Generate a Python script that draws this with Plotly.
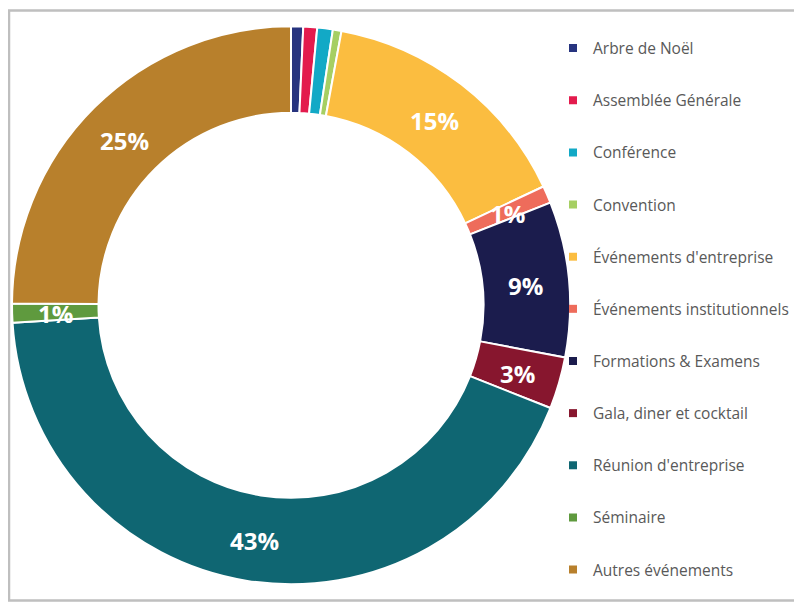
import math
import plotly.graph_objects as go

categories = [
    "Arbre de Noël", "Assemblée Générale", "Conférence", "Convention",
    "Événements d'entreprise", "Événements institutionnels", "Formations & Examens",
    "Gala, diner et cocktail", "Réunion d'entreprise", "Séminaire", "Autres événements",
]
values = [0.7, 0.8, 0.9, 0.5, 15.1, 1.0, 9.0, 3.0, 43.0, 1.1, 24.9]
labels_shown = ["", "", "", "", "15%", "1%", "9%", "3%", "43%", "1%", "25%"]
colors = [
    "#27347f", "#e31b4d", "#12a9c6", "#a6cf63", "#fbbd40", "#ee6c5b",
    "#1b1c4d", "#87162e", "#0f6672", "#5f9a3e", "#b8802c",
]

# page body has an 8px margin: figure origin sits at screen (8, 8)
OFF = 8
W, H = 810, 595
HOLE = 0.69
cx, cy, R = 291 - OFF, 305.3 - OFF, 279.0


def px(x):
    return x / W


def py(y):
    return 1 - y / H


fig = go.Figure()
fig.add_trace(go.Pie(
    labels=categories,
    values=values,
    textinfo="none",
    marker=dict(colors=colors, line=dict(color="white", width=2)),
    hole=HOLE,
    sort=False,
    direction="clockwise",
    rotation=0,
    showlegend=False,
    domain=dict(x=[px(cx - R), px(cx + R)], y=[py(cy + R), py(cy - R)]),
    hoverinfo="label+percent",
))

# data labels placed at the middle of the ring, at each slice's mid angle
total = sum(values)
r_mid = R * (1 + HOLE) / 2
annotations = []
cum = 0.0
for v, t in zip(values, labels_shown):
    mid = (cum + v / 2) / total * 2 * math.pi
    cum += v
    if not t:
        continue
    annotations.append(dict(
        x=px(cx + r_mid * math.sin(mid)), y=py(cy - r_mid * math.cos(mid) + 2),
        xref="paper", yref="paper", text=t, showarrow=False,
        xanchor="center", yanchor="middle",
        font=dict(family="Open Sans", size=24, color="white", weight="bold"),
    ))

for name, col in zip(categories, colors):
    fig.add_trace(go.Scatter(
        x=[None], y=[None], mode="markers", name=name,
        legendgroup=name,
        marker=dict(symbol="square", size=8, color=col),
        hoverinfo="skip",
    ))

fig.update_layout(
    width=W, height=H,
    margin=dict(l=0, r=0, t=0, b=0),
    paper_bgcolor="white",
    plot_bgcolor="white",
    xaxis=dict(visible=False),
    yaxis=dict(visible=False),
    annotations=annotations,
    legend=dict(
        x=px(545), y=py(23.5), xanchor="left", yanchor="top",
        font=dict(family="Open Sans", size=15.5, color="#595959"),
        tracegroupgap=29,
        bgcolor="rgba(0,0,0,0)",
    ),
    shapes=[dict(
        type="rect", xref="paper", yref="paper",
        x0=px(9 - OFF), x1=px(799.5 - OFF), y0=py(600.5 - OFF), y1=py(10.5 - OFF),
        line=dict(color="#bfbfbf", width=2.5), layer="below",
    )],
)

fig.write_html("out.html")
